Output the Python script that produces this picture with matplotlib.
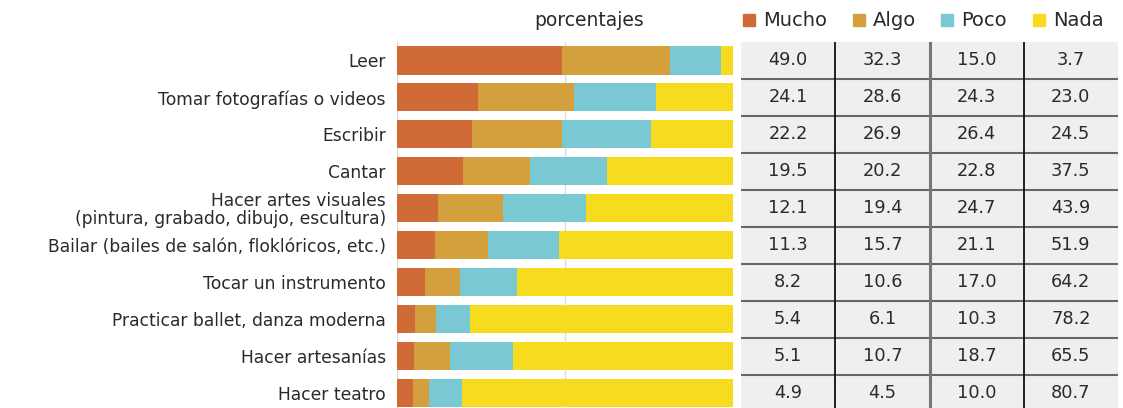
import matplotlib
matplotlib.use("Agg")
import matplotlib.pyplot as plt
import numpy as np

plt.rcParams['font.family'] = ['DejaVu Sans']

# data
activities = ["Leer", "Tomar fotografías o videos", "Escribir", "Cantar",
              "Hacer artes visuales\n(pintura, grabado, dibujo, escultura)",
              "Bailar (bailes de salón, floklóricos, etc.)",
              "Tocar un instrumento", "Practicar ballet, danza moderna",
              "Hacer artesanías", "Hacer teatro"]
levels = ["Mucho", "Algo", "Poco", "Nada"]
mucho = [49.0, 24.1, 22.2, 19.5, 12.1, 11.3, 8.2, 5.4, 5.1, 4.9]
algo = [32.3, 28.6, 26.9, 20.2, 19.4, 15.7, 10.6, 6.1, 10.7, 4.5]
poco = [15.0, 24.3, 26.4, 22.8, 24.7, 21.1, 17.0, 10.3, 18.7, 10.0]
nada = [3.7, 23.0, 24.5, 37.5, 43.9, 51.9, 64.2, 78.2, 65.5, 80.7]
colors = ["#d06a36", "#d4a03e", "#7ac8d4", "#f7db1f"]

series = [mucho, algo, poco, nada]
n = len(activities)
y = np.arange(n)

fig = plt.figure(figsize=(11.23, 4.08), dpi=100)
W, H = 1123, 408

def px_axes(x0, y0, x1, y1):
    return fig.add_axes([x0 / W, 1 - y1 / H, (x1 - x0) / W, (y1 - y0) / H])

# bar panel
ax = px_axes(397, 42, 733, 411.5)
left = np.zeros(n)
for vals, c in zip(series, colors):
    ax.barh(y, vals, left=left, height=0.76, color=c, zorder=2)
    left += np.array(vals)
ax.set_xlim(0, 100)
ax.set_ylim(n - 0.5, -0.5)
for gx in [0, 50, 100]:
    ax.axvline(gx, color="#dddddd", lw=1, zorder=1)
ax.set_xticks([])
ax.set_yticks(y)
ax.set_yticklabels(activities, fontsize=12.3, color="#2a2a2a", linespacing=0.98)
ax.tick_params(axis='y', length=0, pad=8)
for s in ax.spines.values():
    s.set_visible(False)

fig.text(589 / W, 1 - 20 / H, "porcentajes", ha="center", va="center",
         fontsize=13.5, color="#2a2a2a")

# table panel
tx = px_axes(741, 42, 1118, 411.5)
tx.set_xlim(0, 4)
tx.set_ylim(n - 0.5, -0.5)
tx.set_facecolor("#efefef")
tx.set_xticks([])
tx.set_yticks([])
for s in tx.spines.values():
    s.set_visible(False)
for i in range(n):
    for j, vals in enumerate(series):
        tx.text(j + 0.5, i, f"{vals[i]:.1f}", ha="center", va="center",
                fontsize=12.8, color="#2a2a2a")
for i in range(n - 1):
    tx.axhline(i + 0.5, color="#666666", lw=1.5)
tx.axvline(1, color="#111111", lw=1.3)
tx.axvline(2, color="#777777", lw=2.2)
tx.axvline(3, color="#111111", lw=1.3)

# legend
leg_x = [743, 853, 941, 1033]
for lx, lab, c in zip(leg_x, levels, colors):
    fig.patches.append(plt.Rectangle((lx / W, 1 - 26 / H), 12 / W, 12 / H,
                                     transform=fig.transFigure, color=c))
    fig.text((lx + 20) / W, 1 - 20 / H, lab, ha="left", va="center",
             fontsize=14, color="#2a2a2a")

fig.savefig("out.png", dpi=100)
